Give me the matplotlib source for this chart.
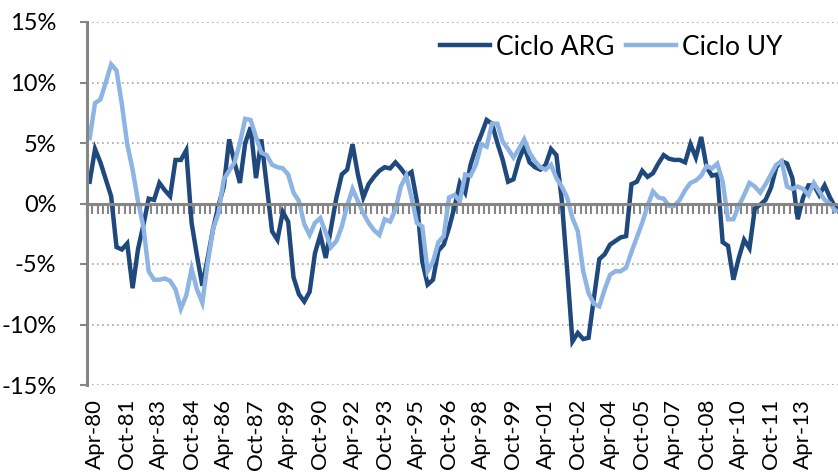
import numpy as np
import matplotlib
matplotlib.use("Agg")
import matplotlib.pyplot as plt

plt.rcParams['font.family'] = ['Lato', 'DejaVu Sans']

# ciclo trimestral, 1980Q1 en adelante (%)
ciclo_arg = [
    1.8, 4.5, 3.4, 2.0, 0.6, -3.6, -3.8, -3.3, -7.0, -3.8,
    -1.8, 0.4, 0.3, 1.7, 1.1, 0.6, 3.6, 3.6, 4.4, -1.6,
    -4.3, -6.8, -4.5, -2.1, -0.2, 1.4, 5.3, 3.4, 1.7, 5.0,
    6.3, 2.1, 5.3, 1.5, -2.3, -3.0, -0.7, -1.5, -6.1, -7.5,
    -8.1, -7.3, -4.1, -2.6, -4.5, -2.0, 0.5, 2.4, 2.8, 4.9,
    2.4, 0.5, 1.6, 2.2, 2.7, 3.0, 2.9, 3.4, 2.9, 2.3,
    2.6, 0.2, -4.8, -6.7, -6.3, -3.9, -3.4, -2.0, -0.3, 1.7,
    0.9, 3.2, 4.6, 5.7, 6.9, 6.6, 5.0, 3.6, 1.8, 2.0,
    3.6, 4.7, 3.4, 3.0, 2.8, 3.2, 4.5, 4.0, 0.3, -5.4,
    -11.4, -10.7, -11.2, -11.1, -7.8, -4.6, -4.2, -3.4, -3.1, -2.8,
    -2.7, 1.6, 1.8, 2.7, 2.2, 2.5, 3.3, 4.0, 3.7, 3.6,
    3.6, 3.4, 4.9, 3.8, 5.5, 3.0, 2.3, 2.4, -3.2, -3.5,
    -6.3, -4.5, -3.0, -3.7, -0.4, -0.1, 0.3, 1.3, 3.0, 3.5,
    3.3, 2.1, -1.3, 0.5, 1.5, 1.5, 0.7, 1.5, 0.5, -0.3,
]
ciclo_uy = [
    5.4, 8.3, 8.6, 10.0, 11.5, 11.0, 8.2, 4.9, 2.8, 0.2,
    -1.9, -5.6, -6.3, -6.3, -6.2, -6.4, -7.1, -8.7, -7.6, -5.4,
    -7.1, -8.2, -4.9, -2.1, -0.8, 2.0, 2.7, 3.4, 5.0, 7.0,
    6.9, 5.5, 4.2, 4.0, 3.2, 3.0, 2.9, 2.4, 0.9, 0.2,
    -1.7, -2.6, -1.6, -1.2, -2.4, -3.6, -3.1, -1.9, -0.2, 1.2,
    0.2, -0.8, -1.6, -2.2, -2.6, -1.3, -1.5, -0.5, 1.4, 2.3,
    0.5, -1.6, -1.9, -5.6, -4.8, -3.2, -2.7, 0.5, 0.7, 0.2,
    2.4, 2.3, 3.2, 4.9, 4.7, 6.6, 6.6, 5.1, 4.5, 3.8,
    4.5, 5.3, 4.2, 3.5, 3.0, 2.8, 3.2, 2.1, 1.4, 0.5,
    -1.2, -2.3, -5.6, -7.4, -8.3, -8.5, -7.1, -5.9, -5.6, -5.6,
    -5.3, -4.0, -2.8, -1.6, -0.2, 1.0, 0.5, 0.4, -0.2, -0.2,
    0.3, 1.1, 1.7, 1.9, 2.3, 3.1, 2.9, 3.3, 1.8, -1.3,
    -1.3, -0.2, 0.7, 1.7, 1.4, 0.9, 1.6, 2.4, 3.2, 3.5,
    1.4, 1.2, 1.4, 1.2, 0.7, 1.7, 1.0, 0.3, 0.0, -0.6,
]
etiquetas_x = ['Apr-80', 'Oct-81', 'Apr-83', 'Oct-84', 'Apr-86', 'Oct-87',
               'Apr-89', 'Oct-90', 'Apr-92', 'Oct-93', 'Apr-95', 'Oct-96',
               'Apr-98', 'Oct-99', 'Apr-01', 'Oct-02', 'Apr-04', 'Oct-05',
               'Apr-07', 'Oct-08', 'Apr-10', 'Oct-11', 'Apr-13']
ticks_y = [-15, -10, -5, 0, 5, 10, 15]

n = len(ciclo_arg)
x = np.arange(n)
gris = '#868686'

fig = plt.figure(figsize=(8.38, 4.74), dpi=100)
ax = fig.add_axes([87 / 838, 89 / 474, 1 - 87 / 838, 363 / 474])

ax.plot(x, ciclo_arg, color='#1F497D', lw=3.2, label='Ciclo ARG', solid_joinstyle='miter')
ax.plot(x, ciclo_uy, color='#8DB4E2', lw=3.2, label='Ciclo UY', solid_joinstyle='miter')

ax.set_xlim(-0.5, n - 0.5)
ax.set_ylim(-15, 15)

# grilla punteada
for v in ticks_y:
    if v != 0:
        ax.axhline(v, color='#A6A6A6', lw=1.2, ls=(0, (1, 2)), zorder=0)

ax.set_yticks(ticks_y)
ax.set_yticklabels(['%d%%' % v for v in ticks_y], fontsize=17)
ax.tick_params(axis='y', length=5, width=1.5, color=gris, pad=17)

# eje x sobre el cero, marcas cada trimestre
ax.spines['bottom'].set_position(('data', 0))
ax.spines['bottom'].set_color(gris)
ax.spines['bottom'].set_linewidth(2.2)
ax.spines['left'].set_color(gris)
ax.spines['left'].set_linewidth(2.2)
ax.spines['top'].set_visible(False)
ax.spines['right'].set_visible(False)
ax.set_xticks(np.arange(n + 1) - 0.5)
ax.tick_params(axis='x', length=7, width=1.5, color=gris, labelbottom=False)

sec = ax.secondary_xaxis(0)
sec.set_xticks(x[1::6][:len(etiquetas_x)])
sec.set_xticklabels(etiquetas_x, rotation=90, fontsize=16)
sec.tick_params(length=0, pad=10)
sec.spines['bottom'].set_visible(False)

ax.legend(loc='center left', bbox_to_anchor=(0.470, 0.931), ncol=2, frameon=False,
          fontsize=19, handlelength=1.9, handletextpad=0.22, columnspacing=0.45,
          borderaxespad=0, borderpad=0)

fig.savefig('out.png', dpi=100)
